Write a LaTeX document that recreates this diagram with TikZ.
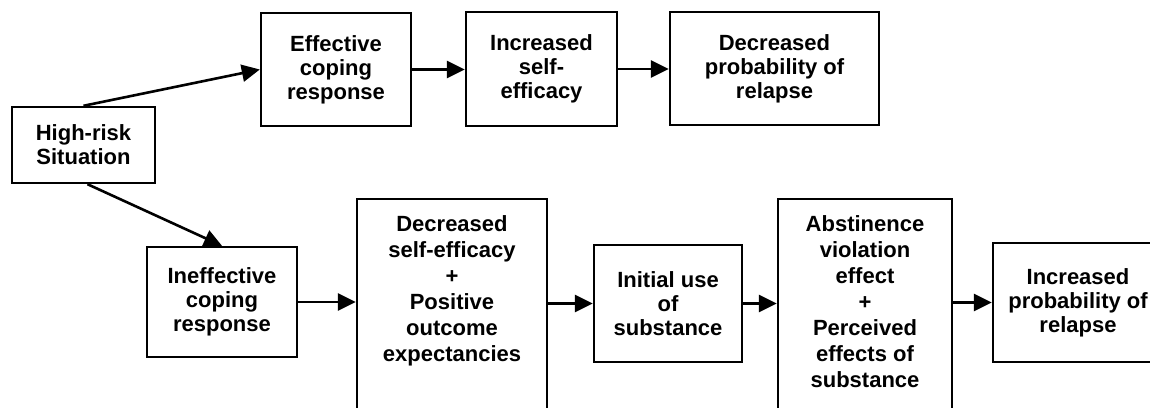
\documentclass[tikz,border=0pt]{standalone}
\usepackage{fontspec}
\setmainfont{Liberation Sans}
\usetikzlibrary{arrows.meta}
\begin{document}
\begin{tikzpicture}[x=1pt,y=1pt,
  box/.style={draw, line width=2.4pt, rectangle, inner sep=0pt, align=center,
    font=\fontsize{22}{24}\selectfont\bfseries},
  tallbox/.style={draw, line width=2.4pt, rectangle, inner sep=0pt},
  talltext/.style={align=center, inner sep=0pt, anchor=north,
    font=\fontsize{22}{26}\selectfont\bfseries},
  arr/.style={line width=2.6pt, -{Triangle[length=18pt,width=17pt]}}]
\useasboundingbox (0,0) rectangle (1150,407);
\clip (0,0) rectangle (1150,407);

\node[box, minimum width=143pt, minimum height=76pt] (hr) at (83.5,262) {High-risk\\Situation};
\node[box, minimum width=150pt, minimum height=113pt] (eff) at (336,337.5) {Effective\\coping\\response};
\node[box, minimum width=151pt, minimum height=114pt] (inc) at (541.5,338) {Increased\\self-\\efficacy};
\node[box, minimum width=209pt, minimum height=113pt] (dec) at (774.5,338.5) {Decreased\\probability of\\relapse};

\node[box, minimum width=150pt, minimum height=110pt] (ineff) at (222,105) {Ineffective\\coping\\response};
\node[tallbox, minimum width=190pt, minimum height=231pt] (dse) at (452,92.5) {};
\node[talltext] (dsetext) at ([yshift=-18pt]dse.north) {Decreased\\self-efficacy\\+\\Positive\\outcome\\expectancies};
\node[box, minimum width=148pt, minimum height=117pt] (init) at (668,103.5) {Initial use\\of\\substance};
\node[tallbox, minimum width=174pt, minimum height=231pt] (abs) at (865,92.5) {};
\node[talltext] (abstext) at ([yshift=-18pt]abs.north) {Abstinence\\violation\\effect\\+\\Perceived\\effects of\\substance};
\node[box, minimum width=170pt, minimum height=119pt] (ipr) at (1078,104.5) {Increased\\probability of\\relapse};

\draw[arr] (hr.north) -- (eff.west);
\draw[arr] ([xshift=4pt]hr.south) -- (ineff.north);
\draw[arr] (eff.east) -- (eff.east -| inc.west);
\draw[arr] (inc.east) -- (inc.east -| dec.west);
\draw[arr] (ineff.east) -- (ineff.east -| dse.west);
\draw[arr] (init.west -| dse.east) -- (init.west);
\draw[arr] (init.east) -- (init.east -| abs.west);
\draw[arr] (ipr.west -| abs.east) -- (ipr.west);
\end{tikzpicture}
\end{document}
